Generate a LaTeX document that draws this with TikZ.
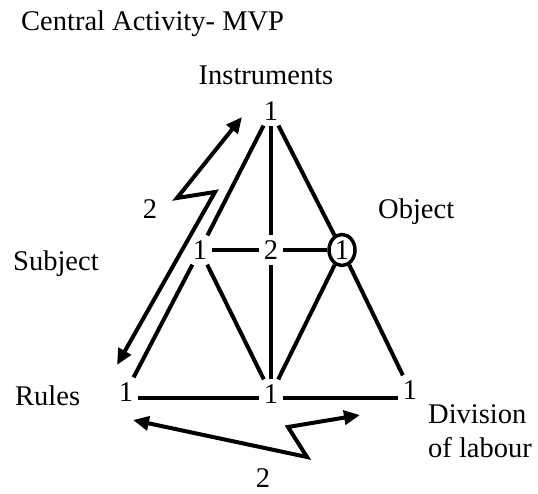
\documentclass[tikz,border=0pt]{standalone}
\usepackage{fontspec}
\setmainfont{Liberation Serif}
\usetikzlibrary{arrows.meta,shapes.geometric}
\begin{document}
\begin{tikzpicture}[x=1pt,y=-1pt,
  every node/.style={font=\fontsize{28.5}{34}\selectfont},
  num/.style={inner sep=5pt},
  circ/.style={shape=ellipse,draw,line width=3.5pt,inner sep=0pt,minimum width=26pt,minimum height=31pt},
  lbl/.style={inner sep=0pt,anchor=base west},
  clbl/.style={inner sep=0pt,anchor=base},
  edge/.style={line width=4pt},
  zz/.style={line width=4pt,{Triangle[length=16pt,width=14pt]}-{Triangle[length=16pt,width=14pt]}}
]
\useasboundingbox (0,0) rectangle (538,493);
% labels
\node[lbl] (title) at (21,30) {Central Activity- MVP};
\node[clbl] (instr) at (266,84) {Instruments};
\node[lbl] (subj) at (13,270) {Subject};
\node[lbl] (obj) at (378,218) {Object};
\node[lbl] (rules) at (15,405) {Rules};
\node[lbl,align=left] (div) at (428,457) {Division\\of labour};
\node[clbl] (twoa) at (150,218) {2};
\node[clbl] (twob) at (263,487) {2};
% numbers
\node[num] (t) at (271,111) {1};
\node[num] (l) at (200,250) {1};
\node[num] (c) at (271,250) {2};
\node[circ] (r) at (342,250) {1};
\node[num] (bl) at (126,392) {1};
\node[num] (bm) at (271,394) {1};
\node[num] (br) at (410,390) {1};
% edges
\draw[edge] (t) -- (l);
\draw[edge] (l) -- (bl);
\draw[edge] (t) -- (r);
\draw[edge] (r) -- (br);
\draw[edge] (t) -- (c);
\draw[edge] (c) -- (bm);
\draw[edge] (l) -- (c);
\draw[edge] (c) -- (r);
\draw[edge] (l) -- (bm);
\draw[edge] (r) -- (bm);
\draw[edge] ([yshift=-6pt]bl.east) -- ([yshift=-4pt]bm.west);
\draw[edge] ([yshift=-4pt]bm.east) -- ([yshift=-8pt]br.west);
% zigzag arrows
\coordinate (za) at (117,365);
\coordinate (zb) at (215,192);
\coordinate (zc) at (177,198);
\coordinate (zd) at (242,117);
\draw[zz] (za) -- (zb) -- (zc) -- (zd);
\coordinate (ya) at (133,420);
\coordinate (yb) at (307,457);
\coordinate (yc) at (288,427);
\coordinate (yd) at (360,415);
\draw[zz] (ya) -- (yb) -- (yc) -- (yd);
\end{tikzpicture}
\end{document}
